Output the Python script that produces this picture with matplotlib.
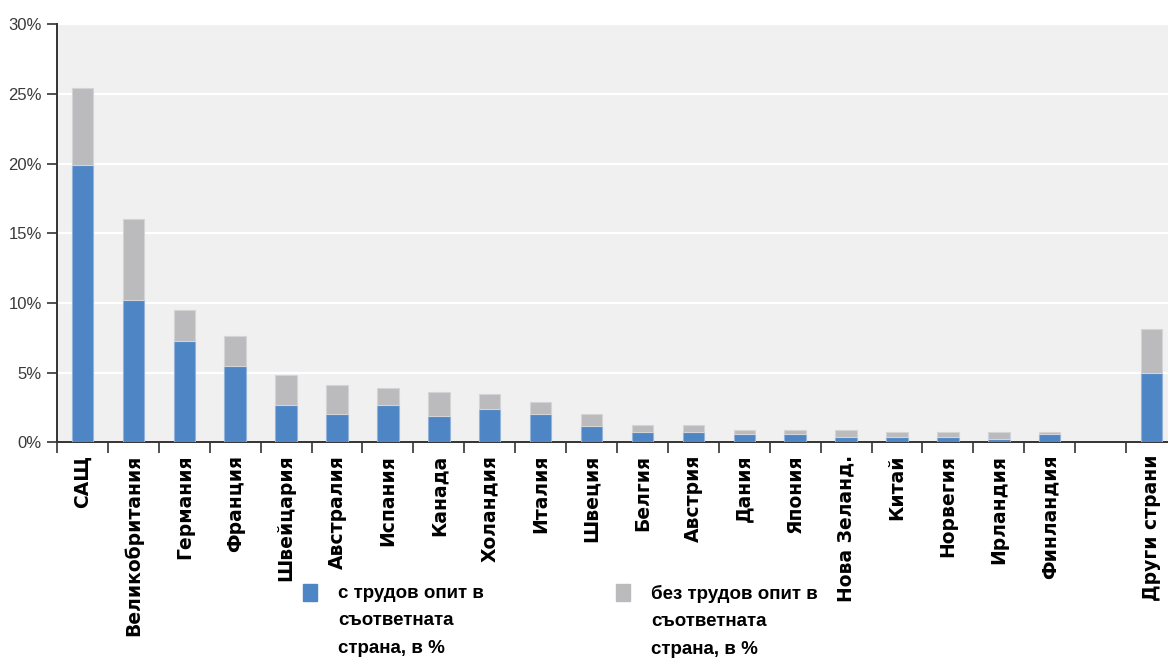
import matplotlib.pyplot as plt
import numpy as np
from matplotlib import font_manager
from matplotlib.patches import Rectangle

# shares of graduates by country of study, %
countries = ['САЩ', 'Великобритания', 'Германия', 'Франция', 'Швейцария',
             'Австралия', 'Испания', 'Канада', 'Холандия', 'Италия',
             'Швеция', 'Белгия', 'Австрия', 'Дания', 'Япония',
             'Нова Зеланд.', 'Китай', 'Норвегия', 'Ирландия', 'Финландия',
             '', 'Други страни']
with_work = [19.9, 10.2, 7.3, 5.5, 2.7, 2.0, 2.7, 1.9, 2.4, 2.0,
             1.2, 0.75, 0.75, 0.6, 0.6, 0.4, 0.4, 0.4, 0.25, 0.6,
             np.nan, 5.0]
without_work = [5.5, 5.8, 2.2, 2.1, 2.1, 2.1, 1.2, 1.7, 1.1, 0.9,
                0.8, 0.5, 0.5, 0.3, 0.3, 0.5, 0.35, 0.35, 0.5, 0.12,
                np.nan, 3.1]
series_names = ['с трудов опит в\nсъответната\nстрана, в %',
                'без трудов опит в\nсъответната\nстрана, в %']
y_ticks = [0, 5, 10, 15, 20, 25, 30]

BLUE = '#4d85c5'
GREY = '#bbbbbd'


def pick_family(*names):
    installed = {f.name for f in font_manager.fontManager.ttflist}
    for n in names:
        if n in installed:
            return n
    return 'DejaVu Sans'


narrow = pick_family('Liberation Sans Narrow', 'Arial Narrow', 'Liberation Sans')

fig = plt.figure(figsize=(11.68, 6.58), dpi=100)
ax = fig.add_axes([57 / 1168, 1 - 442.3 / 658, 1120 / 1168, 418 / 658])
ax.set_facecolor('#f0f0f0')

x = np.arange(len(countries))
w = np.array(with_work)
wo = np.array(without_work)
ax.bar(x, w, width=0.42, color=BLUE, edgecolor='#93b3da', linewidth=0.8, zorder=3)
ax.bar(x, wo, bottom=w, width=0.42, color=GREY, edgecolor='#d4d4d6', linewidth=0.8, zorder=3)

ax.set_xlim(-0.5, len(countries) - 0.5)
ax.set_ylim(0, 30)

ax.set_yticks(y_ticks)
ax.set_yticklabels([f'{t}%' for t in y_ticks], family=narrow, fontsize=12, color='#3a3a3a')
ax.yaxis.grid(True, color='white', linewidth=1.6, zorder=0)
ax.set_axisbelow(True)
ax.tick_params(axis='y', length=7, width=1.2, color='#333333', pad=4)

# category boundaries get the tick marks, names sit between them
ax.set_xticks(np.arange(-0.5, len(countries), 1.0))
ax.set_xticklabels([])
ax.set_xticks(x, minor=True)
ax.set_xticklabels(countries, minor=True, rotation=90, fontsize=13.5,
                   fontweight='bold', family='DejaVu Sans', color='black')
ax.tick_params(axis='x', which='major', length=8, width=1.2, color='#333333')
ax.tick_params(axis='x', which='minor', length=0, pad=9)

for s in ['top', 'right']:
    ax.spines[s].set_visible(False)
for s in ['left', 'bottom']:
    ax.spines[s].set_color('#333333')
    ax.spines[s].set_linewidth(1.4)

# legend below the category names
for name, color, lx in zip(series_names, [BLUE, GREY], [303, 616]):
    fig.patches.append(Rectangle((lx / 1168, 1 - 601 / 658), 14 / 1168, 17 / 658,
                                 transform=fig.transFigure, color=color))
    fig.text((lx + 35) / 1168, 1 - 585 / 658, name, family=narrow, fontsize=13.5,
             fontweight='bold', va='top', ha='left', linespacing=1.8)

fig.savefig('out.png', dpi=100)
